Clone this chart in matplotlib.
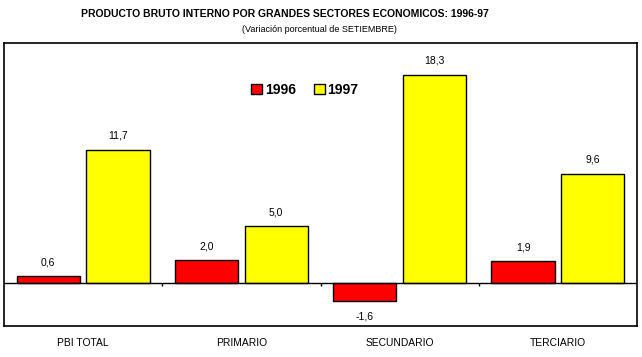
#!/usr/bin/env python

import numpy as np
import matplotlib
matplotlib.use("Agg")
import matplotlib.pyplot as plt

plt.rcParams['font.family'] = ['Liberation Sans', 'DejaVu Sans']

# data
sectores = ["PBI TOTAL", "PRIMARIO", "SECUNDARIO", "TERCIARIO"]
v1996 = [0.6, 2.0, -1.6, 1.9]
v1997 = [11.7, 5.0, 18.3, 9.6]
etiquetas = ["1996", "1997"]

fig = plt.figure(figsize=(6.42, 3.57), dpi=100)
ax = fig.add_axes([4/642, 31/357, 633/642, 283/357])

x = np.arange(len(sectores))
w = 0.40
off = 0.22

b1 = ax.bar(x - off, v1996, w, color="#ff0000", edgecolor="black", linewidth=1, label=etiquetas[0], zorder=3)
b2 = ax.bar(x + off, v1997, w, color="#ffff00", edgecolor="black", linewidth=1, label=etiquetas[1], zorder=3)

#value labels, spanish decimal comma
for bars in (b1, b2):
    for r in bars:
        h = r.get_height()
        txt = ("%.1f" % h).replace(".", ",")
        dy = 10 if h >= 0 else -11
        ax.annotate(txt, (r.get_x() + r.get_width()/2, h), xytext=(0, dy),
                    textcoords="offset points", ha="center", va="center", fontsize=7.5)

ax.axhline(0, color="black", linewidth=1, zorder=4)
# small ticks between categories on the zero line
ax.vlines(x[:-1] + 0.5, -0.25, 0, color="black", linewidth=1, zorder=4)

ax.set_xlim(-0.5, 3.5)
ax.set_ylim(-3.8, 21.1)
ax.set_yticks([])
ax.set_xticks(x)
ax.set_xticklabels(sectores, fontsize=7.4)
ax.tick_params(axis="x", length=0, pad=9)
for s in ax.spines.values():
    s.set_linewidth(1.2)

leg = ax.legend(loc="center", bbox_to_anchor=(0.475, 0.834), ncol=2, frameon=False,
                prop={"weight": "bold", "size": 10}, handlelength=0.8, handleheight=0.8,
                handletextpad=0.2, columnspacing=1.3)

fig.text(285/642, 1 - 14/357, "PRODUCTO BRUTO INTERNO POR GRANDES SECTORES ECONOMICOS: 1996-97",
         ha="center", va="center", fontsize=7.5, fontweight="bold")
fig.text(319/642, 1 - 30/357, "(Variación porcentual de SETIEMBRE)",
         ha="center", va="center", fontsize=6.5)

plt.savefig("out.png", dpi=100)
